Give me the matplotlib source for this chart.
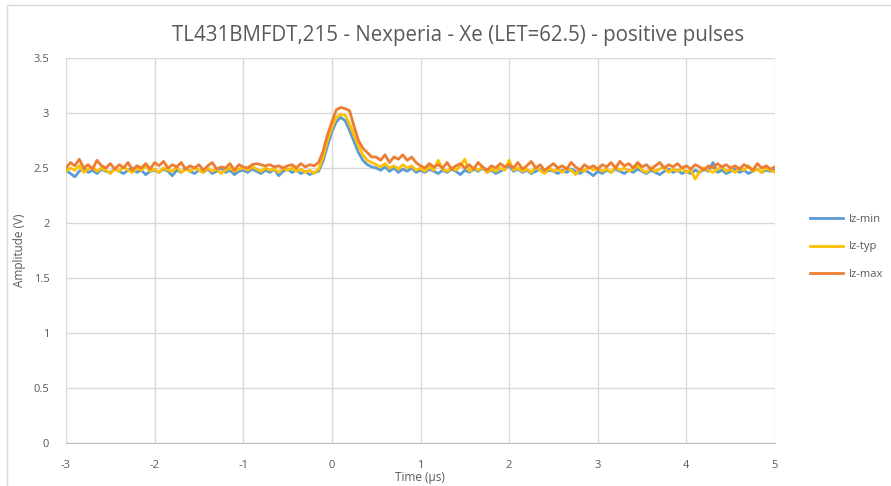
import numpy as np
import matplotlib
matplotlib.use("Agg")
import matplotlib.pyplot as plt
from matplotlib.patches import Rectangle

t_start, t_step = -3.0, 0.05

iz_max = [
    2.50, 2.55, 2.52, 2.58, 2.50, 2.53, 2.49, 2.57, 2.52, 2.50,
    2.54, 2.49, 2.53, 2.50, 2.55, 2.48, 2.52, 2.50, 2.54, 2.49,
    2.55, 2.52, 2.56, 2.50, 2.53, 2.51, 2.55, 2.49, 2.52, 2.50,
    2.53, 2.48, 2.52, 2.55, 2.49, 2.51, 2.50, 2.54, 2.48, 2.53,
    2.51, 2.50, 2.53, 2.54, 2.53, 2.52, 2.53, 2.51, 2.52, 2.50,
    2.52, 2.53, 2.50, 2.54, 2.51, 2.53, 2.52, 2.55, 2.65, 2.80,
    2.92, 3.03, 3.05, 3.04, 3.02, 2.88, 2.75, 2.68, 2.64, 2.60,
    2.60, 2.57, 2.62, 2.55, 2.60, 2.58, 2.62, 2.57, 2.60, 2.55,
    2.52, 2.50, 2.54, 2.51, 2.53, 2.50, 2.55, 2.49, 2.52, 2.54,
    2.50, 2.53, 2.49, 2.55, 2.51, 2.48, 2.52, 2.50, 2.54, 2.51,
    2.53, 2.50, 2.55, 2.49, 2.52, 2.56, 2.50, 2.53, 2.48, 2.51,
    2.54, 2.50, 2.52, 2.49, 2.55, 2.51, 2.48, 2.53, 2.50, 2.52,
    2.49, 2.53, 2.51, 2.55, 2.50, 2.56, 2.52, 2.54, 2.50, 2.55,
    2.51, 2.53, 2.49, 2.52, 2.55, 2.50, 2.53, 2.51, 2.54, 2.50,
    2.52, 2.49, 2.53, 2.51, 2.48, 2.52, 2.50, 2.54, 2.51, 2.53,
    2.50, 2.52, 2.49, 2.53, 2.51, 2.48, 2.54, 2.50, 2.52, 2.49,
    2.51,
]

iz_typ = [
    2.47, 2.50, 2.48, 2.52, 2.46, 2.49, 2.51, 2.47, 2.50, 2.48,
    2.45, 2.49, 2.47, 2.51, 2.48, 2.46, 2.50, 2.48, 2.52, 2.47,
    2.49, 2.46, 2.50, 2.48, 2.47, 2.51, 2.46, 2.49, 2.47, 2.50,
    2.48, 2.46, 2.50, 2.47, 2.49, 2.45, 2.48, 2.50, 2.47, 2.49,
    2.50, 2.48, 2.51, 2.49, 2.47, 2.50, 2.48, 2.49, 2.46, 2.50,
    2.48, 2.50, 2.47, 2.49, 2.46, 2.48, 2.45, 2.49, 2.60, 2.75,
    2.87, 2.96, 2.99, 2.98, 2.90, 2.80, 2.70, 2.62, 2.57, 2.55,
    2.53, 2.51, 2.54, 2.50, 2.52, 2.49, 2.53, 2.50, 2.52, 2.48,
    2.50, 2.47, 2.51, 2.48, 2.57, 2.49, 2.47, 2.50, 2.48, 2.52,
    2.58, 2.47, 2.50, 2.48, 2.51, 2.46, 2.49, 2.47, 2.50, 2.48,
    2.57, 2.48, 2.50, 2.47, 2.49, 2.46, 2.51, 2.48, 2.45, 2.50,
    2.47, 2.49, 2.46, 2.50, 2.48, 2.44, 2.49, 2.47, 2.51, 2.48,
    2.50, 2.47, 2.49, 2.46, 2.51, 2.48, 2.50, 2.47, 2.49, 2.52,
    2.48, 2.46, 2.50, 2.47, 2.49, 2.51, 2.46, 2.49, 2.47, 2.50,
    2.46, 2.48, 2.40, 2.47, 2.50, 2.48, 2.46, 2.49, 2.51, 2.47,
    2.49, 2.46, 2.50, 2.48, 2.52, 2.47, 2.49, 2.46, 2.50, 2.48,
    2.46,
]

iz_min = [
    2.48, 2.45, 2.42, 2.47, 2.50, 2.46, 2.48, 2.45, 2.49, 2.47,
    2.46, 2.49, 2.47, 2.45, 2.48, 2.50, 2.46, 2.48, 2.44, 2.47,
    2.48, 2.46, 2.49, 2.47, 2.43, 2.48, 2.46, 2.50, 2.47, 2.45,
    2.48, 2.46, 2.49, 2.45, 2.47, 2.50, 2.46, 2.48, 2.44, 2.47,
    2.48, 2.46, 2.49, 2.47, 2.45, 2.48, 2.46, 2.49, 2.43, 2.47,
    2.49, 2.46, 2.48, 2.45, 2.47, 2.44, 2.46, 2.47, 2.56, 2.70,
    2.83, 2.92, 2.96, 2.93, 2.84, 2.74, 2.64, 2.57, 2.53, 2.51,
    2.50, 2.48, 2.51, 2.47, 2.50, 2.46, 2.49, 2.47, 2.50, 2.46,
    2.48, 2.46, 2.49, 2.47, 2.45, 2.48, 2.46, 2.49, 2.47, 2.44,
    2.48, 2.46, 2.49, 2.47, 2.50, 2.46, 2.48, 2.45, 2.47, 2.49,
    2.52, 2.47, 2.49, 2.46, 2.48, 2.45, 2.47, 2.49, 2.46, 2.48,
    2.47, 2.45, 2.48, 2.46, 2.49, 2.47, 2.45, 2.48, 2.46, 2.43,
    2.47, 2.45, 2.48, 2.46, 2.49, 2.47, 2.45, 2.48, 2.46, 2.49,
    2.47, 2.45, 2.48, 2.46, 2.44, 2.47, 2.49, 2.46, 2.48, 2.45,
    2.47, 2.45, 2.48, 2.46, 2.49, 2.47, 2.55, 2.46, 2.48, 2.45,
    2.47, 2.49, 2.46, 2.48, 2.45, 2.47, 2.49, 2.46, 2.48, 2.47,
    2.48,
]

x_ticks = [-3, -2, -1, 0, 1, 2, 3, 4, 5]
y_ticks = [0, 0.5, 1, 1.5, 2, 2.5, 3, 3.5]
y_tick_labels = ["0", "0.5", "1", "1.5", "2", "2.5", "3", "3.5"]

series = [("Iz-min", iz_min, "#5B9BD5"),
          ("Iz-typ", iz_typ, "#FFC000"),
          ("Iz-max", iz_max, "#ED7D31")]

plt.rcParams['font.family'] = ['Open Sans', 'DejaVu Sans']
txt = "#595959"

fig = plt.figure(figsize=(8.91, 4.86), dpi=100)
ax = fig.add_axes([66/891, 1 - 443/486, (775-66)/891, (443-58)/486])

for name, vals, col in series:
    t = t_start + t_step * np.arange(len(vals))
    ax.plot(t, vals, color=col, lw=2.0, label=name, solid_joinstyle='round')

ax.set_xlim(-3, 5)
ax.set_ylim(0, 3.5)
ax.set_xticks(x_ticks)
ax.set_xticklabels([str(v) for v in x_ticks])
ax.set_yticks(y_ticks)
ax.set_yticklabels(y_tick_labels)
ax.grid(True, color="#D9D9D9", lw=1.0)
ax.set_axisbelow(True)
for s in ["top", "right", "left"]:
    ax.spines[s].set_visible(False)
ax.spines["bottom"].set_color("#BFBFBF")
ax.tick_params(axis='both', length=0, labelsize=8, colors=txt)
ax.tick_params(axis='x', pad=12)
ax.tick_params(axis='y', pad=12)

fig.text(420/891, 1 - 477/486, "Time (µs)", ha='center', va='center', fontsize=8.5, color=txt)
fig.text(20/891, 1 - 250/486, "Amplitude (V)", ha='center', va='center', rotation=90,
         fontsize=8.5, color=txt)
fig.text(458/891, 1 - 36/486, "TL431BMFDT,215 - Nexperia - Xe (LET=62.5) - positive pulses",
         ha='center', va='center', fontsize=14.8, color=txt)

leg = ax.legend(loc='center left', bbox_to_anchor=(800/891, 1 - 247/486),
                bbox_transform=fig.transFigure, frameon=False, fontsize=8,
                handlelength=3.0, labelspacing=1.45, handletextpad=0.5)
for tx in leg.get_texts():
    tx.set_color(txt)

fig.patches.append(Rectangle((7/891, -0.1), 2, 1 - 5/486 + 0.1, transform=fig.transFigure,
                             fill=False, edgecolor="#D9D9D9", lw=1.0))

fig.savefig("out.png", dpi=100)
